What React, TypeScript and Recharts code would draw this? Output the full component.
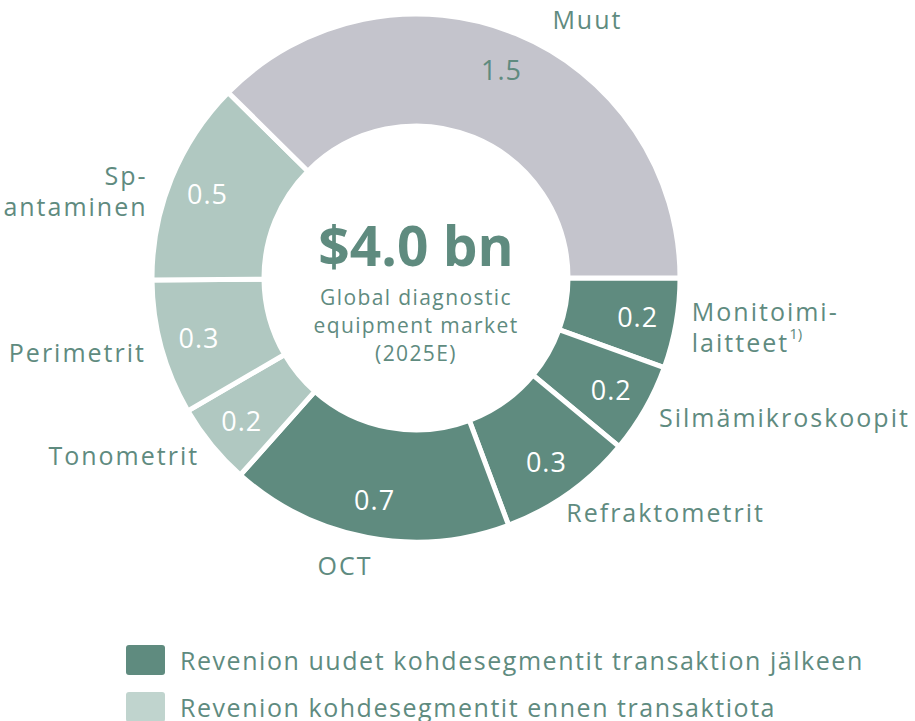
import { PieChart, Pie, Cell, Label } from "recharts";

const categories = [
  "Monitoimi-\nlaitteet",
  "Silmämikroskoopit",
  "Refraktometrit",
  "OCT",
  "Tonometrit",
  "Perimetrit",
  "Sp-\nantaminen",
  "Muut",
];
const values = [0.22, 0.22, 0.33, 0.69, 0.2, 0.33, 0.5, 1.5];
const groups = ["new", "new", "new", "new", "old", "old", "old", "other"];
const footnotes = ["1)", "", "", "", "", "", "", ""];
const legendLabels = [
  "Revenion uudet kohdesegmentit transaktion jälkeen",
  "Revenion kohdesegmentit ennen transaktiota",
];
const subtitleLines = ["Global diagnostic", "equipment market", "(2025E)"];

const GREEN = "#5f8b7f";
const FONT = "'Open Sans', sans-serif";
const fills: Record<string, string> = { new: "#5f8b7f", old: "#b0c8c1", other: "#c4c4cc" };
const legendFills = ["#5f8b7f", "#c0d4ce"];
const CX = 416;
const CY = 278;

const data = categories.map((name, i) => ({ name, value: values[i], group: groups[i], note: footnotes[i] }));
const total = values.reduce((a, b) => a + b, 0);

const RADIAN = Math.PI / 180;

const renderLabel = (props: any) => {
  const { cx, cy, midAngle, innerRadius, outerRadius, index, value } = props;
  const item = data[index];
  const cos = Math.cos(-midAngle * RADIAN);
  const sin = Math.sin(-midAngle * RADIAN);
  const rIn = (innerRadius + outerRadius) / 2 + 17;
  const vx = cx + rIn * cos;
  const vy = cy + rIn * sin;
  const rOut = outerRadius + 16;
  let ox = cx + rOut * cos;
  let oy = cy + rOut * sin;
  // small nudges so the outer names sit where the original puts them
  if (sin < -0.9) ox += 30;
  if (sin > 0.9) { ox += 8; oy += 12; }
  if (cos > 0.5 && sin > 0.75) { ox -= 12; oy += 6; }
  if (cos < -0.5 && sin < -0.2) { ox -= 9; oy += 18; }
  const anchor = cos > 0.15 ? "start" : cos < -0.15 ? "end" : "middle";
  const lines = item.name.split("\n");
  const lh = 31;
  const startY = oy - ((lines.length - 1) * lh) / 2;
  return (
    <g>
      <text x={vx} y={vy} textAnchor="middle" dominantBaseline="central" fontSize={27} letterSpacing={1}
        fontFamily={FONT} fill={item.group === "other" ? GREEN : "#ffffff"}>
        {Number(value).toFixed(1)}
      </text>
      <text x={ox} y={startY} textAnchor={anchor} dominantBaseline="central" fontSize={25} letterSpacing={2}
        fontFamily={FONT} fill={GREEN}>
        {lines.map((l: string, i: number) => (
          <tspan key={i} x={ox} dy={i === 0 ? 0 : lh}>
            {l}
            {i === lines.length - 1 && item.note ? (
              <tspan fontSize={15} letterSpacing={0} dy={-9}>{item.note}</tspan>
            ) : null}
          </tspan>
        ))}
      </text>
    </g>
  );
};

const CenterLabel = () => (
  <g fontFamily={FONT} textAnchor="middle">
    <text x={CX} y={CY - 34} fontSize={55} fontWeight={700} textAnchor="middle" dominantBaseline="central" fill={GREEN}>
      ${total.toFixed(1)} bn
    </text>
    {subtitleLines.map((l, i) => (
      <text key={i} x={CX} y={CY + 19 + i * 28} fontSize={21} letterSpacing={1.4} textAnchor="middle"
        dominantBaseline="central" fill={GREEN}>
        {l}
      </text>
    ))}
  </g>
);

export default function App() {
  return (
    <div style={{ position: "fixed", left: 0, top: 0, width: 915, height: 721, background: "#fff", overflow: "hidden" }}>
      <PieChart width={915} height={721} margin={{ top: 0, right: 0, bottom: 0, left: 0 }}>
        <Pie
          data={data}
          dataKey="value"
          nameKey="name"
          cx={CX}
          cy={CY}
          innerRadius={152}
          outerRadius={264}
          startAngle={0}
          endAngle={-360}
          stroke="#ffffff"
          strokeWidth={5}
          label={renderLabel}
          labelLine={false}
          isAnimationActive={false}
        >
          {data.map((d, i) => (
            <Cell key={i} fill={fills[d.group]} />
          ))}
          <Label content={CenterLabel} position="center" />
        </Pie>
      </PieChart>
      <div style={{ position: "absolute", left: 126, top: 636, fontFamily: FONT }}>
        {legendLabels.map((l, i) => (
          <div key={i} style={{ display: "flex", alignItems: "center", height: 47 }}>
            <div style={{ width: 39, height: 30, borderRadius: 3, background: legendFills[i], marginRight: 15 }} />
            <span style={{ fontSize: 25, letterSpacing: 1.55, color: GREEN, whiteSpace: "nowrap" }}>{l}</span>
          </div>
        ))}
      </div>
    </div>
  );
}
